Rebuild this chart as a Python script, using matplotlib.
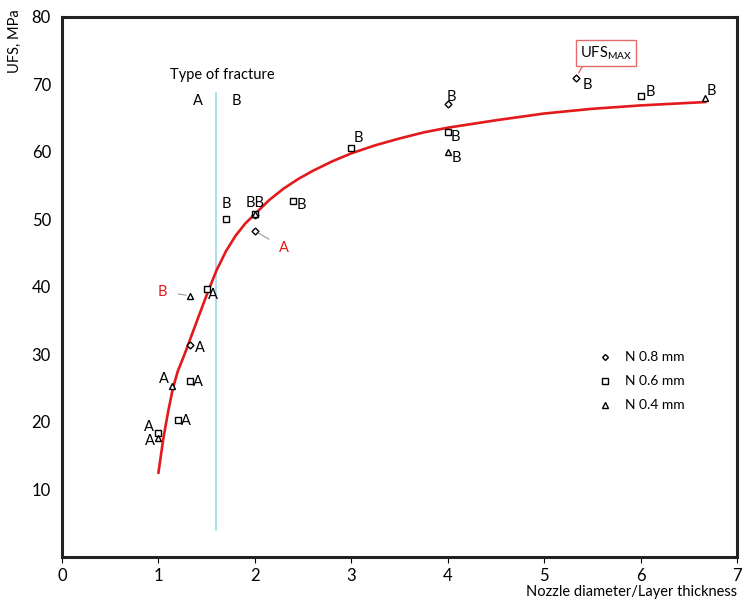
import matplotlib
matplotlib.use("Agg")
import matplotlib.pyplot as plt

# --- data ---
# N 0.8 mm (diamonds)
d08_x = [5.33, 4.0, 2.0, 1.33, 2.0]
d08_y = [71.0, 67.1, 48.3, 31.4, 50.6]
# N 0.6 mm (squares)
d06_x = [6.0, 4.0, 3.0, 2.4, 1.7, 2.0, 1.5, 1.33, 1.2, 1.0]
d06_y = [68.3, 62.9, 60.6, 52.7, 50.0, 50.8, 39.7, 26.0, 20.3, 18.4]
# N 0.4 mm (triangles)
d04_x = [6.67, 4.0, 2.0, 1.33, 1.14, 1.0]
d04_y = [68.0, 60.0, 50.8, 38.7, 25.3, 17.6]

# fitted trend curve
curve_x = [1.0, 1.05, 1.1, 1.15, 1.2, 1.27, 1.33, 1.4, 1.5, 1.6, 1.7, 1.8, 1.9, 2.0,
           2.15, 2.3, 2.45, 2.6, 2.8, 3.0, 3.25, 3.5, 3.75, 4.0, 4.5, 5.0, 5.5, 6.0, 6.67]
curve_y = [12.5, 17.5, 21.5, 25.0, 27.5, 30.0, 32.3, 35.0, 38.8, 42.4, 45.3, 47.6, 49.4, 50.8,
           52.9, 54.6, 56.0, 57.2, 58.6, 59.8, 61.0, 62.0, 62.9, 63.6, 64.7, 65.7, 66.4, 66.9, 67.4]

fracture_split = 1.6

# labels: (x, y, text, dx px, dy px)
point_labels = [
    (5.33, 71.0, "B", 11, -7), (4.0, 67.1, "B", 4, 7), (1.33, 31.4, "A", 10, -3),
    (6.0, 68.3, "B", 10, 4), (4.0, 62.9, "B", 8, -5), (3.0, 60.6, "B", 7, 10),
    (2.4, 52.7, "B", 8, -4), (1.7, 50.0, "B", 0, 15), (2.0, 50.8, "BB", 0, 11),
    (1.5, 39.7, "A", 6, -6), (1.33, 26.0, "A", 8, -1), (1.2, 20.3, "A", 8, -1),
    (1.0, 18.4, "A", -10, 6), (6.67, 68.0, "B", 6, 7), (4.0, 60.0, "B", 9, -6),
    (1.14, 25.3, "A", -8, 7), (1.0, 17.6, "A", -9, -3),
]

plt.rcParams["font.family"] = ["Lato", "DejaVu Sans"]
plt.rcParams["mathtext.fontset"] = "custom"
plt.rcParams["mathtext.rm"] = "Lato"

fig = plt.figure(figsize=(7.5, 6.09), dpi=100)
ax = fig.add_axes([0.0827, 0.0854, 0.9, 0.8867])

red = "#e3191c"
ax.plot(curve_x, curve_y, color=red, lw=1.9, zorder=2)
ax.plot([fracture_split, fracture_split], [4, 68.7], color="#9dd8ea", lw=1.2, zorder=1)

mk = dict(linestyle="none", mfc="white", mec="black", mew=1.0, zorder=3)
ax.plot(d08_x, d08_y, marker="D", ms=3.5, **mk)
ax.plot(d06_x, d06_y, marker="s", ms=5, **mk)
ax.plot(d04_x, d04_y, marker="^", ms=5, **mk)

fs = 10.5
for x, y, t, dx, dy in point_labels:
    ax.annotate(t, (x, y), xytext=(dx, dy), textcoords="offset pixels",
                ha="center", va="center", fontsize=fs)

# red labels with leader lines
ax.annotate("A", (2.0, 48.3), xytext=(29, -17), textcoords="offset pixels",
            ha="center", va="center", fontsize=fs, color=red,
            arrowprops=dict(arrowstyle="-", color="#999999", lw=0.8, shrinkA=6, shrinkB=3))
ax.annotate("B", (1.33, 38.7), xytext=(-28, 4), textcoords="offset pixels",
            ha="center", va="center", fontsize=fs, color=red,
            arrowprops=dict(arrowstyle="-", color="#999999", lw=0.8, shrinkA=6, shrinkB=3))

# fracture type header
ax.text(1.66, 71.4, "Type of fracture", ha="center", va="center", fontsize=fs)
ax.text(1.41, 67.6, "A", ha="center", va="center", fontsize=fs)
ax.text(1.81, 67.6, "B", ha="center", va="center", fontsize=fs)

# UFS max callout
ax.annotate(r"UFS$_{\mathregular{MAX}}$", (5.33, 71.0), xytext=(30, 25),
            textcoords="offset pixels", ha="center", va="center", fontsize=fs,
            bbox=dict(boxstyle="square,pad=0.3", fc="white", ec="#e36a6a", lw=1.0),
            arrowprops=dict(arrowstyle="-", color="#e36a6a", lw=1.0, shrinkA=0, shrinkB=4,
                            relpos=(0.1, 0.0)))

# legend drawn as markers + text
leg_y = [29.6, 26.1, 22.5]
leg_text = ["N 0.8 mm", "N 0.6 mm", "N 0.4 mm"]
leg_marker = [("D", 3.0), ("s", 4.5), ("^", 4.5)]
for yy, t, (m, s) in zip(leg_y, leg_text, leg_marker):
    ax.plot([5.63], [yy], marker=m, ms=s, **mk)
    ax.text(5.84, yy, t, ha="left", va="center", fontsize=10)

ax.set_xlim(0, 7)
ax.set_ylim(0, 80)
ax.set_xticks(range(0, 8))
ax.set_yticks(range(10, 90, 10))
ax.tick_params(axis="x", length=4, width=0.8, labelsize=12, pad=4)
ax.tick_params(axis="y", length=0, labelsize=12, pad=8)
for sp in ax.spines.values():
    sp.set_linewidth(2.2)
    sp.set_color("#222222")

fig.text(15 / 750, 1 - 41 / 609, "UFS, MPa", rotation=90, ha="center", va="center", fontsize=fs)
fig.text(737 / 750, 1 - 592 / 609, "Nozzle diameter/Layer thickness", ha="right", va="center",
         fontsize=fs)

fig.savefig("out.png", dpi=100)
